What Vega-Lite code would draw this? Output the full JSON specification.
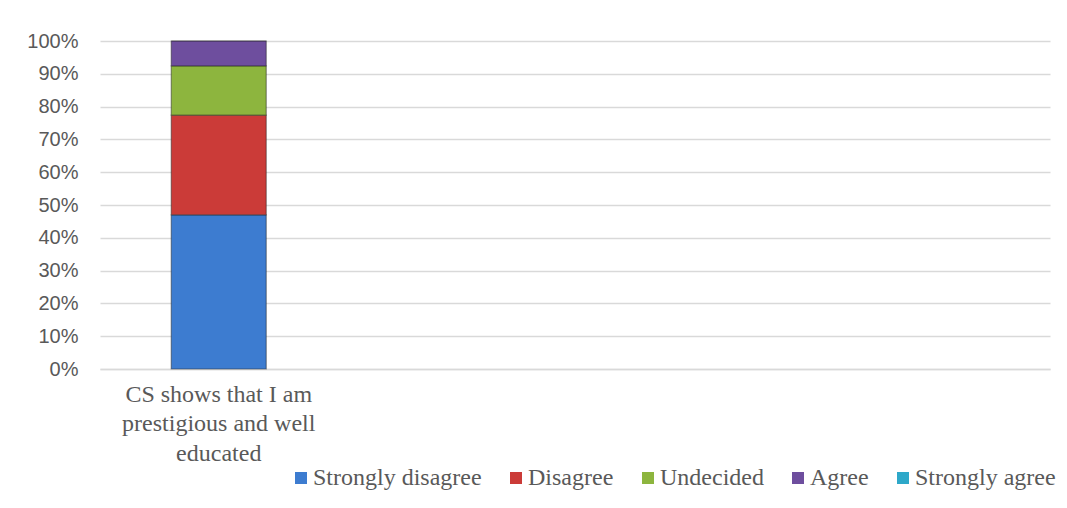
{
  "$schema": "https://vega.github.io/schema/vega-lite/v6.json",
  "width": 950,
  "height": 328,
  "autosize": {"type": "none"},
  "padding": {"left": 100, "top": 41, "right": 17, "bottom": 139},
  "background": "white",
  "config": {"view": {"stroke": null}},
  "data": {
    "values": [
      {"item": "CS shows that I am prestigious and well educated", "response": "Strongly disagree", "order": 1, "value": 47},
      {"item": "CS shows that I am prestigious and well educated", "response": "Disagree", "order": 2, "value": 30.4},
      {"item": "CS shows that I am prestigious and well educated", "response": "Undecided", "order": 3, "value": 15},
      {"item": "CS shows that I am prestigious and well educated", "response": "Agree", "order": 4, "value": 7.6},
      {"item": "CS shows that I am prestigious and well educated", "response": "Strongly agree", "order": 5, "value": 0}
    ]
  },
  "mark": {"type": "bar", "stroke": "#1f1f1f", "strokeOpacity": 0.45, "strokeWidth": 1.2},
  "encoding": {
    "x": {
      "field": "item",
      "type": "nominal",
      "scale": {"domain": ["CS shows that I am prestigious and well educated", "c2", "c3", "c4"], "paddingInner": 0.6, "paddingOuter": 0.3},
      "axis": {
        "title": null,
        "labelAngle": 0,
        "ticks": false,
        "domain": true,
        "domainColor": "#D9D9D9",
        "domainWidth": 1.5,
        "labelExpr": "datum.value == 'CS shows that I am prestigious and well educated' ? ['CS shows that I am', 'prestigious and well', 'educated'] : ''",
        "labelFont": "Liberation Serif",
        "labelFontSize": 24,
        "labelColor": "#595959",
        "labelLineHeight": 29.5,
        "labelPadding": 13,
        "labelLimit": 400
      }
    },
    "y": {
      "field": "value",
      "type": "quantitative",
      "stack": "normalize",
      "scale": {"domain": [0, 1]},
      "axis": {
        "title": null,
        "format": ".0%",
        "values": [0, 0.1, 0.2, 0.3, 0.4, 0.5, 0.6, 0.7, 0.8, 0.9, 1],
        "ticks": false,
        "domain": false,
        "gridColor": "#D9D9D9",
        "gridWidth": 1.5,
        "labelFont": "Liberation Sans",
        "labelFontSize": 20,
        "labelColor": "#595959",
        "labelPadding": 22
      }
    },
    "color": {
      "field": "response",
      "type": "nominal",
      "scale": {
        "domain": ["Strongly disagree", "Disagree", "Undecided", "Agree", "Strongly agree"],
        "range": ["#3D7CD0", "#CB3B38", "#8DB53E", "#6E4E9E", "#2EA8C9"]
      },
      "legend": {
        "title": null,
        "orient": "none",
        "direction": "horizontal",
        "columns": 5,
        "legendX": 189,
        "legendY": 425,
        "symbolType": "square",
        "symbolSize": 144,
        "symbolStrokeWidth": 0,
        "labelFont": "Liberation Serif",
        "labelFontSize": 24,
        "labelColor": "#595959",
        "labelOffset": 0,
        "columnPadding": 22,
        "labelLimit": 300
      }
    },
    "order": {"field": "order", "type": "quantitative"}
  }
}
